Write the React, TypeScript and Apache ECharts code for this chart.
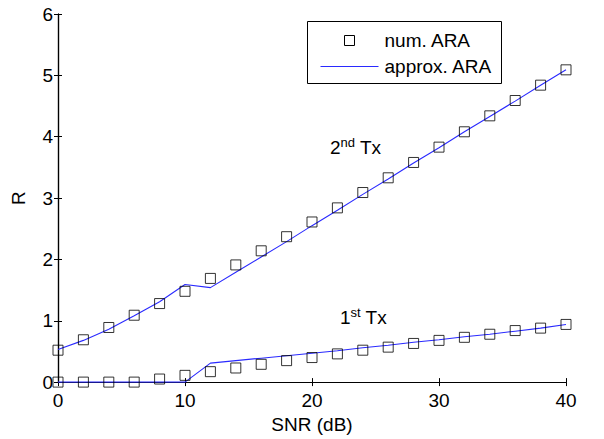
import React, { useEffect, useRef } from "react";
import * as echarts from "echarts";

const snr = [0, 2, 4, 6, 8, 10, 12, 14, 16, 18, 20, 22, 24, 26, 28, 30, 32, 34, 36, 38, 40];
const num2nd = [0.52, 0.69, 0.89, 1.09, 1.28, 1.48, 1.69, 1.91, 2.14, 2.37, 2.61, 2.84, 3.09, 3.33, 3.58, 3.83, 4.08, 4.34, 4.59, 4.84, 5.09];
const approx2nd = [0.53, 0.68, 0.86, 1.08, 1.31, 1.59, 1.54, 1.79, 2.04, 2.29, 2.55, 2.8, 3.06, 3.31, 3.57, 3.82, 4.08, 4.33, 4.58, 4.84, 5.09];
const num1st = [0, 0, 0, 0, 0.05, 0.11, 0.17, 0.23, 0.29, 0.35, 0.4, 0.46, 0.52, 0.57, 0.63, 0.68, 0.73, 0.78, 0.84, 0.88, 0.94];
const approx1st = [0, 0, 0, 0, 0, 0, 0.31, 0.35, 0.39, 0.43, 0.47, 0.51, 0.56, 0.6, 0.65, 0.69, 0.74, 0.78, 0.83, 0.88, 0.94];
const legendNames = ["num. ARA", "approx. ARA"];

const FONT = "'Liberation Sans', Arial, Helvetica, sans-serif";
const LINE_COLOR = "#2a2aff";

const pairs = (xs: number[], ys: number[]) => xs.map((x, i) => [x, ys[i]]);

export default function App() {
  const ref = useRef<HTMLDivElement>(null);
  useEffect(() => {
    if (!ref.current) return;
    const chart = echarts.init(ref.current, null, { renderer: "svg" });
    const axisCommon = {
      axisLine: { show: true, lineStyle: { color: "#000", width: 1.2 } },
      axisTick: { show: true, inside: true, length: 4, lineStyle: { color: "#000" } },
      splitLine: { show: false },
    };
    const scatterStyle = {
      type: "scatter" as const,
      name: legendNames[0],
      symbol: "rect",
      symbolSize: 10,
      itemStyle: { color: "rgba(255,255,255,0)", borderColor: "#000", borderWidth: 1 },
      z: 3,
    };
    const lineStyle = {
      type: "line" as const,
      name: legendNames[1],
      symbol: "none",
      showSymbol: false,
      lineStyle: { color: LINE_COLOR, width: 1.1 },
      itemStyle: { color: LINE_COLOR },
      z: 2,
    };
    const textFont = { fontSize: 19, fill: "#000", fontFamily: FONT };
    chart.setOption({
      animation: false,
      textStyle: { fontFamily: FONT },
      grid: { left: 58, right: 38, top: 14, bottom: 55 },
      xAxis: [
        {
          type: "value",
          min: 0,
          max: 40,
          interval: 10,
          position: "bottom",
          name: "SNR (dB)",
          nameLocation: "middle",
          nameGap: 31,
          nameTextStyle: { fontSize: 19, color: "#000", fontFamily: FONT },
          axisLabel: { fontSize: 19, color: "#000", margin: 9, fontFamily: FONT },
          ...axisCommon,
        },
        {
          type: "value",
          min: 0,
          max: 40,
          interval: 10,
          position: "top",
          axisLabel: { show: false },
          ...axisCommon,
        },
      ],
      yAxis: [
        {
          type: "value",
          min: 0,
          max: 6,
          interval: 1,
          position: "left",
          name: "R",
          nameLocation: "middle",
          nameGap: 30,
          nameTextStyle: { fontSize: 19, color: "#000", fontFamily: FONT },
          axisLabel: { fontSize: 19, color: "#000", margin: 5, fontFamily: FONT },
          ...axisCommon,
        },
        {
          type: "value",
          min: 0,
          max: 6,
          interval: 1,
          position: "right",
          axisLabel: { show: false },
          ...axisCommon,
        },
      ],
      graphic: [
        {
          type: "group",
          left: 307,
          top: 21,
          z: 10,
          children: [
            {
              type: "rect",
              shape: { x: 0, y: 0, width: 194, height: 62 },
              style: { fill: "#fff", stroke: "#000", lineWidth: 1 },
            },
            {
              type: "rect",
              shape: { x: 37, y: 14, width: 10, height: 10 },
              style: { fill: "rgba(255,255,255,0)", stroke: "#000", lineWidth: 1 },
            },
            {
              type: "line",
              shape: { x1: 13, y1: 45, x2: 71, y2: 45 },
              style: { stroke: LINE_COLOR, lineWidth: 1.1 },
            },
            {
              type: "text",
              x: 77,
              y: 19,
              style: { ...textFont, text: legendNames[0], verticalAlign: "middle" },
            },
            {
              type: "text",
              x: 77,
              y: 45,
              style: { ...textFont, text: legendNames[1], verticalAlign: "middle" },
            },
          ],
        },
        {
          type: "text",
          left: 330,
          top: 136,
          style: {
            text: "{a|2}{b|nd}{a| Tx}",
            rich: {
              a: { ...textFont },
              b: { fontSize: 13, fill: "#000", fontFamily: FONT, padding: [0, 0, 10, 0] },
            },
          },
        },
        {
          type: "text",
          left: 340,
          top: 306,
          style: {
            text: "{a|1}{b|st}{a| Tx}",
            rich: {
              a: { ...textFont },
              b: { fontSize: 13, fill: "#000", fontFamily: FONT, padding: [0, 0, 10, 0] },
            },
          },
        },
      ],
      series: [
        { ...lineStyle, data: pairs(snr, approx2nd) },
        { ...lineStyle, data: pairs(snr, approx1st) },
        { ...scatterStyle, data: pairs(snr, num2nd) },
        { ...scatterStyle, data: pairs(snr, num1st) },
      ],
    });
    return () => chart.dispose();
  }, []);
  return (
    <div
      ref={ref}
      style={{ position: "fixed", left: 0, top: 0, width: 604, height: 439, background: "#fff" }}
    />
  );
}
